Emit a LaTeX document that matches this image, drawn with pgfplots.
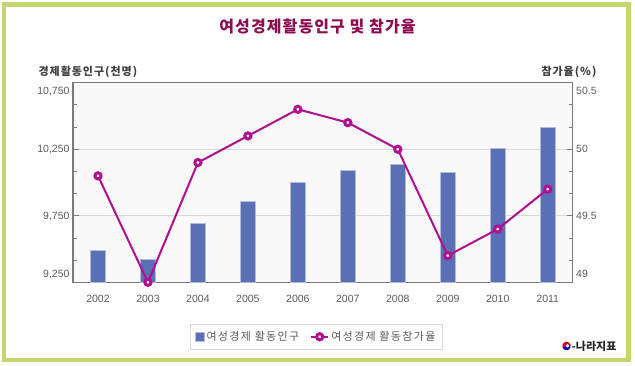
\documentclass[border=0pt]{standalone}
\usepackage{pgfplots}
\pgfplotsset{compat=1.18}
\usepackage{fontspec}
\setmainfont{Liberation Sans}
\newfontfamily\kr{Noto Sans CJK KR}
\newfontfamily\krt[LetterSpace=7]{Noto Sans CJK KR}
\newfontfamily\kra[LetterSpace=9]{Noto Sans CJK KR}
\newfontfamily\krl[LetterSpace=12]{Noto Sans CJK KR}
\definecolor{framecol}{HTML}{C2D86C}
\definecolor{barfill}{HTML}{5B6FB5}
\definecolor{baredge}{HTML}{B4BCDC}
\definecolor{linecol}{HTML}{B0108F}
\definecolor{titlecol}{HTML}{8E0B4F}
\definecolor{axcol}{HTML}{7A7A7A}
\definecolor{gridcol}{HTML}{D9D9D9}
\definecolor{tickcol}{HTML}{5A5A5A}
\definecolor{labcol}{HTML}{404040}
\definecolor{plotbg}{HTML}{F9F9FA}
\begin{document}
\begin{tikzpicture}[x=1pt,y=1pt]
\path[fill=white] (0,0) rectangle (635,365);
\draw[framecol, line width=4.5pt] (4.2,4.8) rectangle (628.7,360.5);
\node[text=titlecol, font=\krt\fontsize{16}{19}\selectfont\bfseries] at (317.5,339) {여성경제활동인구 및 참가율};
\node[anchor=west, text=labcol, font=\kra\fontsize{11}{13}\selectfont\bfseries] at (35,293) {경제활동인구(천명)};
\node[anchor=east, text=labcol, font=\kra\fontsize{11}{13}\selectfont\bfseries] at (600,293) {참가율(\%)};
% logo
\fill[red!85!black] (566.5,19) ++(20:4.3) arc (20:200:4.3) -- cycle;
\fill[blue!75!black] (566.5,19) ++(200:4.3) arc (200:380:4.3) -- cycle;
\fill[white] (567.5,19.3) circle (1.9);
\node[anchor=west, inner sep=0pt, font=\kr\fontsize{11}{13}\selectfont\bfseries, text=black!85] at (571.5,19) {-나라지표};

\pgfplotsset{
  mybase/.style={
    at={(73pt,82.7pt)}, anchor=south west, scale only axis,
    width=499.7pt, height=199.6pt,
    xmin=-0.5, xmax=9.5,
    scaled y ticks=false,
    /pgf/number format/assume math mode=true,
    /pgf/number format/1000 sep={,},
    tick style={axcol, line width=0.8pt},
    major tick length=6pt, minor tick length=4pt,
    minor y tick num=2,
    yticklabel style={text=tickcol, font=\fontsize{10.5}{12}\selectfont, yshift=-3.7pt},
  }
}
\begin{axis}[mybase,
  ymin=9250, ymax=10750,
  ytick={9250,9750,10250,10750},
  ytick pos=left,
  yticklabel style={anchor=base east},
  yticklabel={\ifnum\ticknum=0 \raisebox{8.8pt}{\pgfmathprintnumber{\tick}}\else\ifnum\ticknum=3 \raisebox{-8.3pt}{\pgfmathprintnumber{\tick}}\else\pgfmathprintnumber{\tick}\fi\fi},
  axis background/.style={fill=plotbg},
  axis line style={axcol, line width=1.2pt},
  ymajorgrids, grid style={gridcol, line width=0.8pt},
  xtick={0,...,9},
  xticklabels={2002,2003,2004,2005,2006,2007,2008,2009,2010,2011},
  major x tick style={draw=none},
  xticklabel style={text=tickcol, font=\fontsize{10.5}{12}\selectfont, yshift=-3pt},
  ybar, bar width=14.7pt,
]
\addplot[fill=barfill, draw=baredge, line width=1pt] coordinates {
(0,9486) (1,9418) (2,9690) (3,9860) (4,10001) (5,10092) (6,10139) (7,10076) (8,10256) (9,10416)};
\end{axis}
\begin{axis}[mybase,
  ymin=49, ymax=50.5,
  ytick={49,49.5,50,50.5},
  ytick pos=right,
  yticklabel style={anchor=base west},
  yticklabel={\ifnum\ticknum=0 \raisebox{8.8pt}{\pgfmathprintnumber{\tick}}\else\ifnum\ticknum=3 \raisebox{-8.3pt}{\pgfmathprintnumber{\tick}}\else\pgfmathprintnumber{\tick}\fi\fi},
  axis x line=none,
  axis y line*=right,
  axis line style={axcol, line width=1.2pt},
  clip=false,
  legend style={at={(0.487,-0.273)}, anchor=center, draw=gridcol, line width=0.8pt,
    font=\krl\fontsize{11}{13}\selectfont, text=tickcol, legend columns=2,
    inner xsep=5pt, inner ysep=5pt,
    /tikz/every even column/.append style={column sep=9pt}},
]
\addlegendimage{legend image code/.code={\fill[barfill, draw=baredge, line width=0.6pt] (0pt,-4.3pt) rectangle (8.6pt,4.3pt);}}
\addlegendentry{여성경제 활동인구}
\addplot[linecol, line width=2pt, mark=*, mark size=3.1pt,
  mark options={fill=white, draw=linecol, line width=3pt}] coordinates {
(0,49.8) (1,49.0) (2,49.9) (3,50.1) (4,50.3) (5,50.2) (6,50.0) (7,49.2) (8,49.4) (9,49.7)};
\addlegendentry{여성경제 활동참가율}
\end{axis}
\end{tikzpicture}
\end{document}
